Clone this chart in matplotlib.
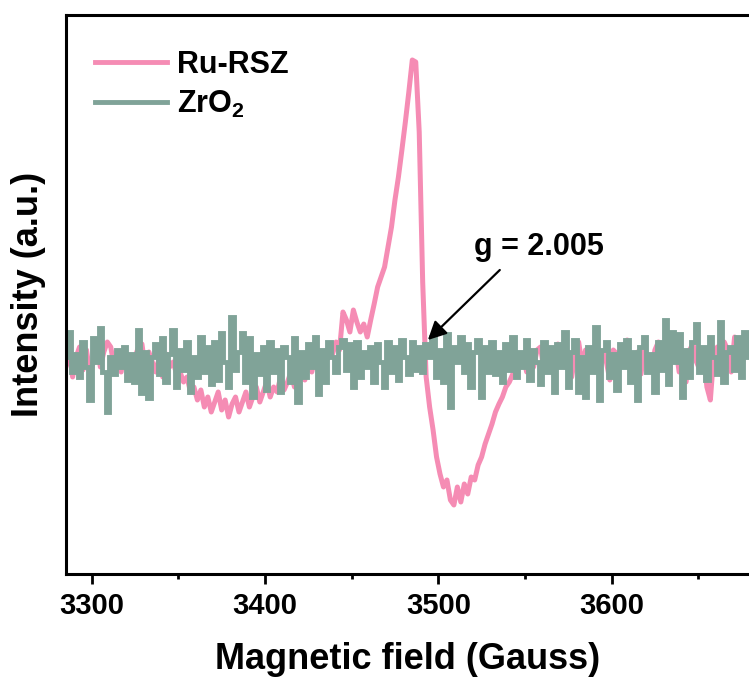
import numpy as np
import matplotlib
matplotlib.use("Agg")
import matplotlib.pyplot as plt
from matplotlib.ticker import MultipleLocator

plt.rcParams['font.family'] = ['Liberation Sans', 'DejaVu Sans']
plt.rcParams['font.weight'] = 'bold'
plt.rcParams['mathtext.fontset'] = 'custom'
plt.rcParams['mathtext.rm'] = 'Liberation Sans:bold'
plt.rcParams['mathtext.it'] = 'Liberation Sans:bold'
plt.rcParams['mathtext.bf'] = 'Liberation Sans:bold'
plt.rcParams['mathtext.default'] = 'rm'

# ---- data (field sweep start / step in Gauss, intensities in a.u.) ----
FIELD_START = 3285
FIELD_STEP = 2

ru_rsz = [
    -5, 10, -15, 5, 15, -8, 12, -12, 0, 18, -5, 10, 20, 15, -5, 8, -10, 12, 0, -12,
    5, 15, 18, -8, 10, 0, -10, 5, -15, 8, -5, 0, -12,
    -10, -20, -15, -30, -25, -38, -28, -45, -35, -50, -40, -30, -48, -38, -55, -42,
    -35, -50, -40, -30, -45, -35, -25, -40, -30, -20, -35, -25, -30, -15, -28, -20,
    -10, -25, -15,
    -5, -18, 0, -10, 5, -8, 10, -5, 15, 8, 20, 12,
    50, 42, 30, 52, 40, 30, 38, 25, 42, 58, 75, 85, 95, 115, 135, 162, 185, 212,
    240, 270, 302, 300, 230, 80, -15, -45, -68, -95, -112, -125, -118, -138, -143,
    -125, -140, -122, -132, -115, -118, -103, -95, -82, -72, -62, -50, -42, -35,
    -25, -20, -12, -8, -2,
    5, -10, 8, -5, 12, 15, -8, 10, 0, -12, 18, 5, -5, 10, -15, 8, 20, -3, 12, -8,
    5, 15, -10, 10, 0, -18, 12, 8, -5, 15, 22, -10, 5, 10, -12, 18, 0, -8, 12, 20,
    -5, 8, -15, 10, 15, -10, 5, -20, 12, 18, 0, -8, 10, -25, -38, 8, 15, -5, 20, 12,
    -10, 25, 5, -8, 15, 20, 10,
]

zro2 = [
    5, 30, -10, 8, -15, 20, -5, -38, 24, 0, 34, -10, -50, 5, -12, 12, -5, 15, -18, 8,
    -20, 32, -31, 10, -36, 5, 18, -12, 24, -20, 8, 32, -25, 12, -8, 20, -30, 5, -15, 25,
    -10, 15, -22, 20, -18, 29, 0, -25, 45, -8, 10, 29, -20, 24, -35, 8, -12, 15, -28, 20,
    -10, 12, -30, 15, 5, -20, 24, -40, 10, -15, 18, -5, 25, -32, 12, -20, 20, 5, -10, 15,
    22, -8, 18, -25, 20, -15, 10, -5, 15, -20, 18, 0, -25, 20, -10, 15, -18, 22, 5, -12,
    20, -8, 15, -10, 18, 5, 25, -15, 12, -20, 28, -45, 15, 0, 25, -10, 18, -25, 10, 22,
    -35, 15, -10, 20, -12, 10, -20, 18, -8, 25, -15, 10, -5, 22, -18, 12, 0, -22, 20, -10,
    15, -30, 18, -5, 30, -25, 10, 22, -30, 5, -35, 15, -10, 35, -38, 12, 20, -15, 8, -28,
    18, -5, 22, -20, 10, -38, 15, 25, -10, 8, -30, 20, -8, 42, -22, 30, 0, 28, -35, 12,
    -15, 20, 38, -10, 15, -18, 25, 5, -12, 40, -20, 10, 15, -8, 25, -15, 30, 5, 10,
]

series_labels = ["Ru-RSZ", r"ZrO$_2$"]
series_colors = ["#F58CB4", "#80A398"]
x_ticks = [3300, 3400, 3500, 3600]
annotation_text = "g = 2.005"
g_point = (3494, 22)
arrow_tail = (3535.5, 92)
text_pos = (3558, 115)

field_ru = FIELD_START + FIELD_STEP * np.arange(len(ru_rsz))
field_zr = FIELD_START + FIELD_STEP * np.arange(len(zro2))

fig = plt.figure(figsize=(7.49, 6.84), dpi=100)
ax = fig.add_axes([65.7 / 749, 110 / 684, 683.3 / 749, 559 / 684])

ax.plot(field_ru, ru_rsz, color=series_colors[0], lw=3.6, label=series_labels[0],
        solid_joinstyle='round')
ax.plot(field_zr, zro2, color=series_colors[1], lw=3.5, label=series_labels[1],
        drawstyle='steps-mid', solid_joinstyle='miter')

ax.set_xlim(3285, 3679.3)
ax.set_ylim(-212, 347)

ax.set_xticks(x_ticks)
ax.xaxis.set_minor_locator(MultipleLocator(50))
ax.set_yticks([])
ax.tick_params(axis='x', which='major', direction='out', length=7, width=2,
               labelsize=21, pad=6)
ax.tick_params(axis='x', which='minor', direction='out', length=3.5, width=2)
for lbl in ax.get_xticklabels():
    lbl.set_fontweight('bold')

for side in ['left', 'top', 'bottom']:
    ax.spines[side].set_linewidth(2.2)
ax.spines['right'].set_visible(False)

ax.set_xlabel("Magnetic field (Gauss)", fontsize=26, fontweight='bold', labelpad=16)
ax.set_ylabel("Intensity (a.u.)", fontsize=26, fontweight='bold', labelpad=14)

ax.annotate("", xy=g_point, xytext=arrow_tail,
            arrowprops=dict(arrowstyle='-|>', color='black', lw=1.6,
                            mutation_scale=28, shrinkA=0, shrinkB=0))
ax.text(text_pos[0], text_pos[1], annotation_text, fontsize=22, fontweight='bold',
        ha='center', va='center')

leg = ax.legend(loc='upper left', bbox_to_anchor=(0.025, 0.96), frameon=False,
                fontsize=22, handlelength=2.35, handletextpad=0.33,
                labelspacing=0.3, borderaxespad=0)
for line in leg.get_lines():
    line.set_linewidth(3.5)

fig.savefig("out.png", dpi=100)
